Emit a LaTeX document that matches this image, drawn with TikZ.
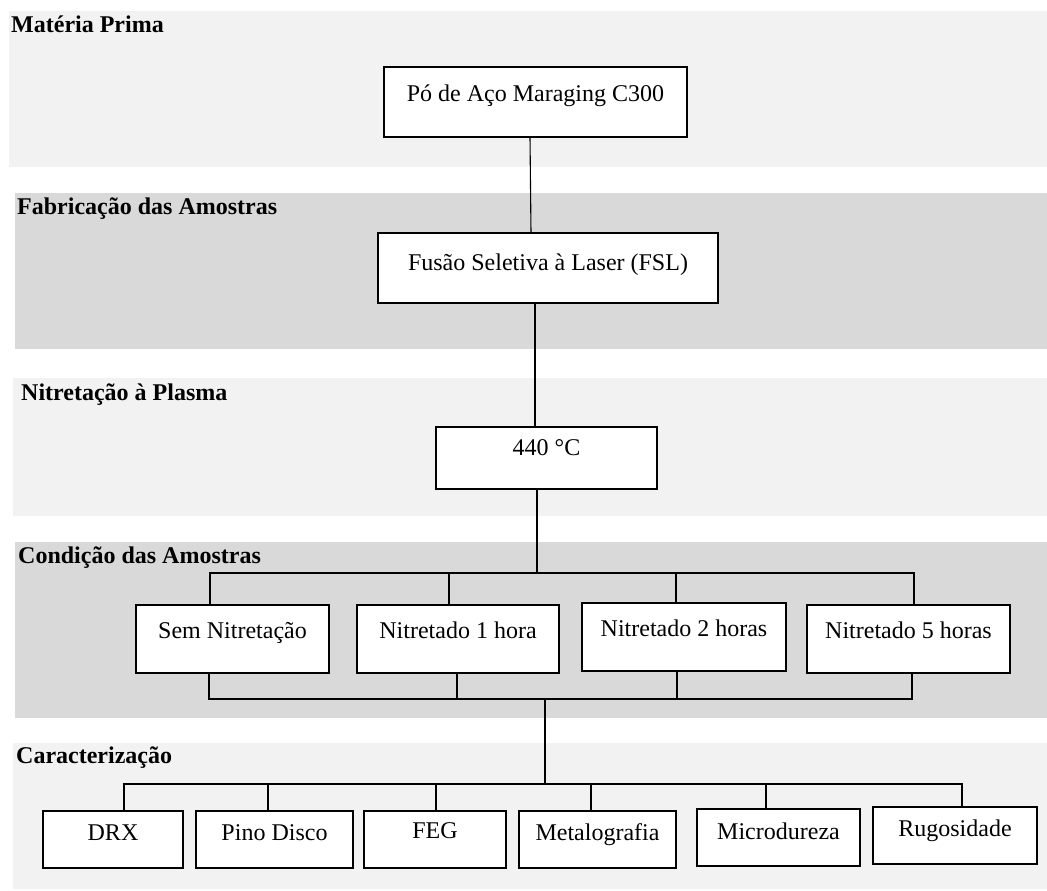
\documentclass[tikz,border=0pt]{standalone}
\usepackage{fontspec}
\setmainfont{Liberation Serif}
\definecolor{bandlight}{HTML}{F2F2F2}
\definecolor{banddark}{HTML}{D9D9D9}
\begin{document}
\begin{tikzpicture}[x=1pt,y=-1pt,
  box/.style={draw=black, fill=white, line width=1.3pt, inner sep=0pt, outer sep=0pt,
    anchor=north west, align=center, font=\fontsize{24}{28}\selectfont},
  lab/.style={anchor=base west, inner sep=0pt, font=\fontsize{24}{28}\selectfont\bfseries},
  conn/.style={draw=black, line width=1.1pt}]
\useasboundingbox (0,0) rectangle (1047,891);
% bands
\fill[bandlight] (9,11) rectangle (1047,167);
\fill[banddark] (15,193) rectangle (1047,349);
\fill[bandlight] (13,378) rectangle (1047,516);
\fill[banddark] (15,542) rectangle (1047,718);
\fill[bandlight] (13,743) rectangle (1047,889);
% band labels
\node[lab] (l1) at (11,33) {Matéria Prima};
\node[lab] (l2) at (17,214) {Fabricação das Amostras};
\node[lab] (l3) at (21,400) {Nitretação à Plasma};
\node[lab] (l4) at (18,563) {Condição das Amostras};
\node[lab] (l5) at (16,763) {Caracterização};
% boxes
\node[box, minimum width=303pt, text height=35pt, text depth=35pt] (b1) at (384,67) {Pó de Aço Maraging C300};
\node[box, minimum width=340pt, text height=37pt, text depth=33pt] (b2) at (378,233) {Fusão Seletiva à Laser (FSL)};
\node[box, minimum width=221pt, text height=28pt, text depth=34pt] (b3) at (436,427) {440 °C};
\node[box, minimum width=193pt, text height=33pt, text depth=35pt] (sem) at (136,605) {Sem Nitretação};
\node[box, minimum width=202pt, text height=33pt, text depth=35pt] (n1) at (357,605) {Nitretado 1 hora};
\node[box, minimum width=204pt, text height=33pt, text depth=35pt] (n2) at (582,603) {Nitretado 2 horas};
\node[box, minimum width=203pt, text height=33pt, text depth=35pt] (n5) at (807,605) {Nitretado 5 horas};
\node[box, minimum width=140pt, text height=29pt, text depth=28pt] (drx) at (43,811) {DRX};
\node[box, minimum width=157pt, text height=29pt, text depth=28pt] (pino) at (196,811) {Pino Disco};
\node[box, minimum width=142pt, text height=27pt, text depth=30pt] (feg) at (364,811) {FEG};
\node[box, minimum width=157pt, text height=29pt, text depth=28pt] (metal) at (519,811) {Metalografia};
\node[box, minimum width=163pt, text height=30pt, text depth=27pt] (micro) at (697,809) {Microdureza};
\node[box, minimum width=164pt, text height=29pt, text depth=28pt] (rugo) at (873,807) {Rugosidade};
% bus coordinates
\coordinate (ta) at (210,573);
\coordinate (tb) at (914,573);
\coordinate (ba) at (209,699);
\coordinate (bb) at (912,699);
\coordinate (ca) at (124,784);
\coordinate (cb) at (962,784);
% connectors
\draw[conn] (b1.south -| 530,0) -- (b2.north -| 531,0);
\draw[conn] (b2.south -| 535,0) -- (b3.north -| 535,0);
\draw[conn] (b3.south -| 537,0) -- (ta -| 537,0);
\draw[conn] (sem.north -| ta) -- (ta) -- (tb) -- (n5.north -| tb);
\draw[conn] (n1.north -| 449,0) -- (ta -| 449,0);
\draw[conn] (n2.north -| 676,0) -- (ta -| 676,0);
\draw[conn] (sem.south -| ba) -- (ba) -- (bb) -- (n5.south -| bb);
\draw[conn] (n1.south -| 457,0) -- (ba -| 457,0);
\draw[conn] (n2.south -| 677,0) -- (ba -| 677,0);
\draw[conn] (ba -| 545,0) -- (ca -| 545,0);
\draw[conn] (drx.north -| ca) -- (ca) -- (cb) -- (rugo.north -| cb);
\draw[conn] (pino.north -| 268,0) -- (ca -| 268,0);
\draw[conn] (feg.north -| 436,0) -- (ca -| 436,0);
\draw[conn] (metal.north -| 591,0) -- (ca -| 591,0);
\draw[conn] (micro.north -| 766,0) -- (ca -| 766,0);
\end{tikzpicture}
\end{document}
